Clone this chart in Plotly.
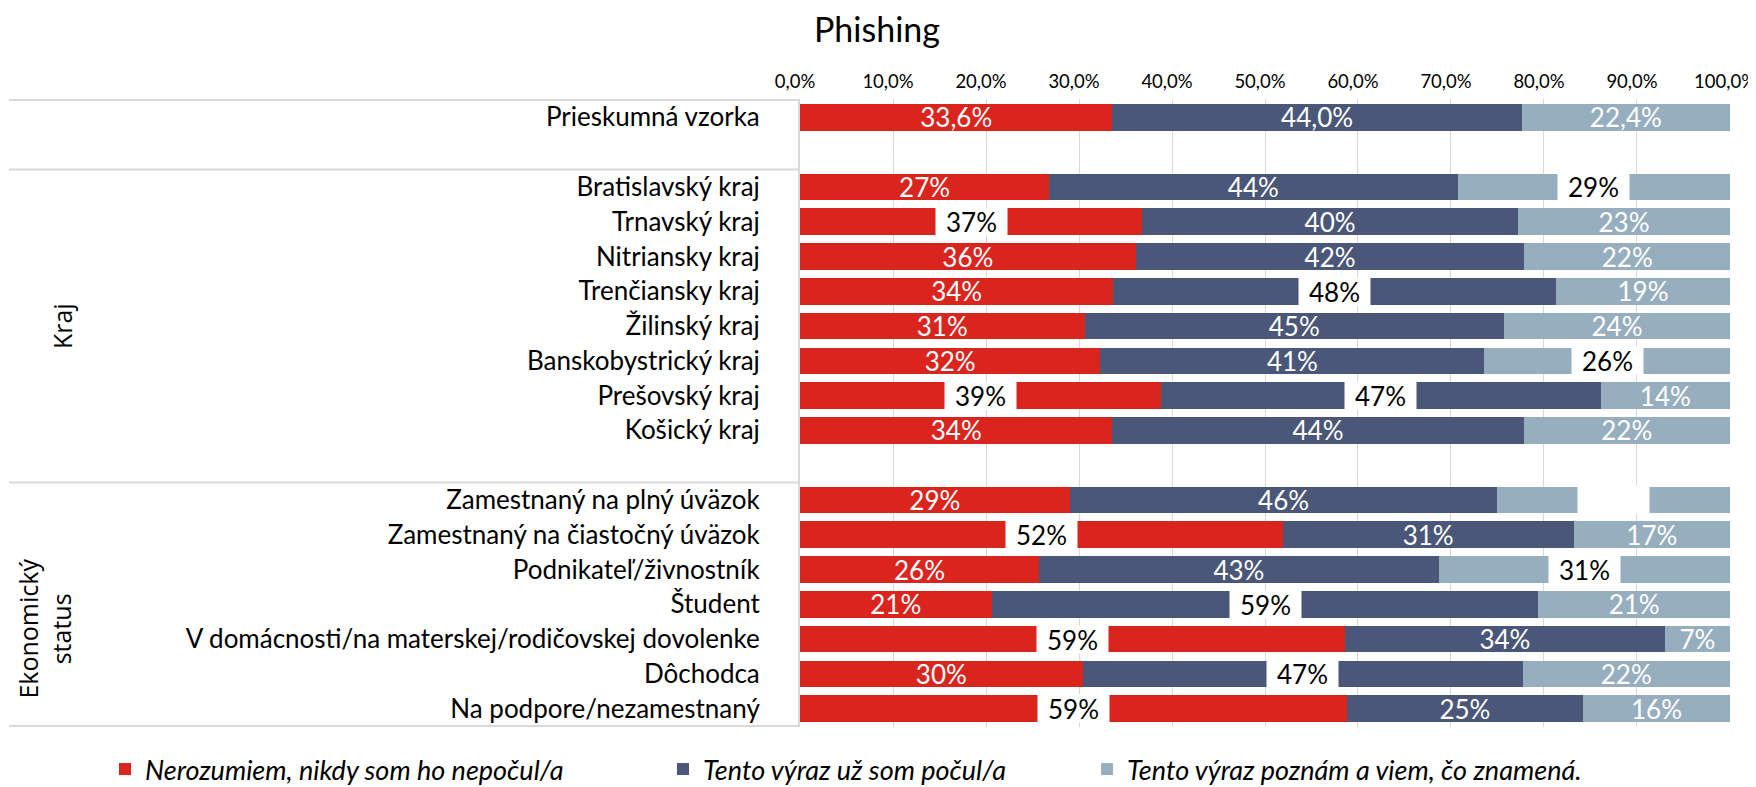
import plotly.graph_objects as go

# ---------------- data ----------------
categories = [
    "Prieskumná vzorka", " ",
    "Bratislavský kraj", "Trnavský kraj", "Nitriansky kraj", "Trenčiansky kraj",
    "Žilinský kraj", "Banskobystrický kraj", "Prešovský kraj", "Košický kraj", "  ",
    "Zamestnaný na plný úväzok", "Zamestnaný na čiastočný úväzok",
    "Podnikateľ/živnostník", "Študent",
    "V domácnosti/na materskej/rodičovskej dovolenke", "Dôchodca",
    "Na podpore/nezamestnaný",
]
nerozumiem = [33.6, None, 26.8, 36.8, 36.1, 33.7, 30.6, 32.3, 38.8, 33.6, None,
              29.0, 51.9, 25.7, 20.6, 58.6, 30.4, 58.8]
pocul = [44.0, None, 43.9, 40.4, 41.8, 47.6, 45.1, 41.3, 47.3, 44.2, None,
         46.0, 31.3, 43.0, 58.8, 34.4, 47.3, 25.4]
poznam = [22.4, None, 29.3, 22.8, 22.1, 18.7, 24.3, 26.4, 13.9, 22.2, None,
          25.0, 16.8, 31.3, 20.6, 7.0, 22.3, 15.8]
series_names = [
    "Nerozumiem, nikdy som ho nepočul/a",
    "Tento výraz už som počul/a",
    "Tento výraz poznám a viem, čo znamená.",
]
tick_values = [0, 10, 20, 30, 40, 50, 60, 70, 80, 90, 100]
tick_labels = [f"{v:.1f}".replace(".", ",") + "%" for v in tick_values]
group_labels = ["Kraj", "Ekonomický<br>status"]

# labels shown in white boxes (row, series index)
boxed = {
    ("Bratislavský kraj", 2), ("Trnavský kraj", 0), ("Trenčiansky kraj", 1),
    ("Banskobystrický kraj", 2), ("Prešovský kraj", 0), ("Prešovský kraj", 1),
    ("Zamestnaný na plný úväzok", 2), ("Zamestnaný na čiastočný úväzok", 0),
    ("Podnikateľ/živnostník", 2), ("Študent", 1),
    ("V domácnosti/na materskej/rodičovskej dovolenke", 0),
    ("Dôchodca", 1), ("Na podpore/nezamestnaný", 0),
}
hidden_box_text = {("Zamestnaný na plný úväzok", 2)}

# ---------------- style ----------------
colors = ["#DA251E", "#4A5779", "#97AEBF"]
FONT = "Lato"
OFF = 8  # page offset of the figure (body margin)
W, H = 1756 - OFF, 787 - OFF
ML = 800 - OFF
MR = W - (1730 - OFF)
MT = 99 - OFF
MB = H - (727 - OFF)
PW = W - ML - MR
PH = H - MT - MB


def px_x(page_x):
    return (page_x - OFF - ML) / PW


def px_y(page_y):
    return 1 - (page_y - OFF - MT) / PH


def fmt(row, v):
    if v is None:
        return ""
    if row == 0:
        return f"{v:.1f}".replace(".", ",") + "%"
    return f"{round(v)}%"


fig = go.Figure()
all_series = [nerozumiem, pocul, poznam]
legend_ids = ["legend", "legend2", "legend3"]
for si, (vals, name, col) in enumerate(zip(all_series, series_names, colors)):
    texts = []
    for ri, (cat, v) in enumerate(zip(categories, vals)):
        texts.append("" if (cat, si) in boxed else fmt(ri, v))
    fig.add_trace(go.Bar(
        y=categories, x=vals, name=name, orientation="h",
        marker=dict(color=col, line=dict(width=0)),
        text=texts, textposition="inside", insidetextanchor="middle",
        textangle=0, constraintext="none",
        textfont=dict(family=FONT, size=26, color="white"),
        legend=legend_ids[si], hoverinfo="skip", cliponaxis=False,
    ))

# boxed labels
annotations = []
for ri, cat in enumerate(categories):
    cum = 0
    for si, vals in enumerate(all_series):
        v = vals[ri]
        if v is None:
            continue
        if (cat, si) in boxed:
            annotations.append(dict(
                x=cum + v / 2, y=cat, xref="x", yref="y",
                text=fmt(ri, v), showarrow=False,
                bgcolor="white", width=71, height=27, borderpad=0,
                font=dict(family=FONT, size=26,
                          color="white" if (cat, si) in hidden_box_text else "black"),
            ))
        cum += v

# group labels
annotations.append(dict(
    x=px_x(62), xref="paper", y=6.0, yref="y", text=group_labels[0],
    textangle=-90, showarrow=False, xanchor="center", yanchor="middle",
    font=dict(family="Open Sans", size=25, color="black")))
annotations.append(dict(
    x=px_x(45), xref="paper", y=14.7, yref="y", text=group_labels[1],
    textangle=-90, showarrow=False, xanchor="center", yanchor="middle",
    font=dict(family="Open Sans", size=25, color="black")))

# group separator lines
shapes = []
x_left = px_x(9)
for yy in [-0.5, 1.5, 10.5, 17.5]:
    shapes.append(dict(type="line", xref="paper", yref="y", x0=x_left, x1=0,
                       y0=yy, y1=yy, line=dict(color="#D9D9D9", width=2)))

leg_common = dict(orientation="h", xanchor="left", yanchor="bottom",
                  y=px_y(794), bgcolor="rgba(0,0,0,0)",
                  font=dict(family=FONT, size=27, style="italic", color="black"))

fig.update_layout(
    width=W, height=H,
    margin=dict(l=ML, r=MR, t=MT, b=MB, autoexpand=False),
    paper_bgcolor="white", plot_bgcolor="white",
    barmode="stack", bargap=0.235,
    separators=",.",
    title=dict(text="Phishing", x=(877 - OFF) / W, xanchor="center",
               y=1 - (30 - OFF) / H, yanchor="middle",
               font=dict(family=FONT, size=34, color="black")),
    xaxis=dict(side="top", range=[0, 100.001], tickvals=tick_values,
               ticktext=tick_labels, showgrid=True,
               gridcolor="#D9D9D9", gridwidth=1, zeroline=False, showline=False,
               ticks="", ticklabelstandoff=6, ticklabeloverflow="allow",
               ticklabelshift=-5,
               tickfont=dict(family=FONT, size=18.5, color="black")),
    yaxis=dict(autorange="reversed", categoryorder="array",
               categoryarray=categories, showgrid=False, zeroline=False,
               showline=True, linecolor="#D9D9D9", linewidth=2, ticks="",
               ticklabelstandoff=33,
               tickfont=dict(family=FONT, size=26, color="black")),
    legend=dict(x=px_x(105), **leg_common),
    legend2=dict(x=px_x(663), **leg_common),
    legend3=dict(x=px_x(1087), **leg_common),
    annotations=annotations, shapes=shapes,
    showlegend=True,
)

fig.write_html("out.html")
